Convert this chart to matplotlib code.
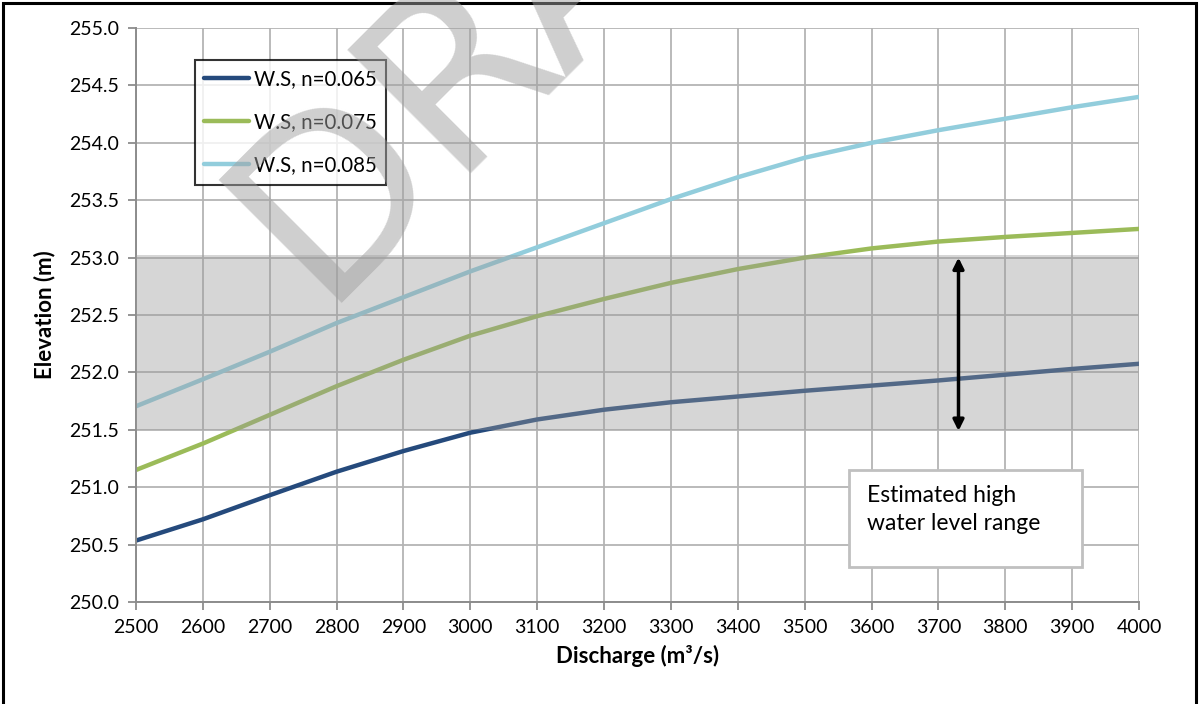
import numpy as np
import matplotlib.pyplot as plt
from matplotlib.patches import Rectangle

plt.rcParams['font.family'] = ['Lato', 'DejaVu Sans']

# discharge (m3/s) and water surface elevations (m)
discharge = [2500, 2600, 2700, 2800, 2900, 3000, 3100, 3200,
             3300, 3400, 3500, 3600, 3700, 3800, 3900, 4000]
ws_065 = [250.535, 250.72, 250.93, 251.135, 251.315, 251.475, 251.59, 251.675,
          251.74, 251.79, 251.84, 251.885, 251.93, 251.98, 252.03, 252.075]
ws_075 = [251.15, 251.38, 251.63, 251.88, 252.11, 252.32, 252.49, 252.64,
          252.78, 252.90, 253.00, 253.08, 253.14, 253.18, 253.215, 253.25]
ws_085 = [251.705, 251.94, 252.18, 252.43, 252.655, 252.88, 253.09, 253.30,
          253.51, 253.70, 253.87, 254.00, 254.11, 254.21, 254.31, 254.40]
labels = ['W.S, n=0.065', 'W.S, n=0.075', 'W.S, n=0.085']
colors = ['#254a7c', '#9bbb59', '#92cddc']

# high water level range
hw_low, hw_high = 251.5, 253.0
arrow_x = 3730

fig = plt.figure(figsize=(11.99, 7.04), dpi=100)
ax = fig.add_axes([0.1134, 0.1449, 0.8366, 0.8153])

for ys, lab, c in zip([ws_065, ws_075, ws_085], labels, colors):
    ax.plot(discharge, ys, color=c, lw=3.2, label=lab, solid_capstyle='round',
            solid_joinstyle='round', zorder=2)

# shaded band sits on top of the lines, semi transparent
ax.axhspan(hw_low, hw_high + 0.02, color='#9a9a9a', alpha=0.4, lw=0, zorder=3)

ax.annotate('', xy=(arrow_x, hw_high), xytext=(arrow_x, hw_low - 0.01),
            arrowprops=dict(arrowstyle='<|-|>', color='black', lw=2.5,
                            mutation_scale=16, shrinkA=0, shrinkB=0), zorder=5)

ax.set_xlim(2500, 4000)
ax.set_ylim(250.0, 255.0)
ax.set_xticks(np.arange(2500, 4001, 100))
ax.set_yticks(np.arange(250.0, 255.01, 0.5))
ax.set_yticklabels([f'{v:.1f}' for v in np.arange(250.0, 255.01, 0.5)])
ax.grid(True, color='#b4b4b4', lw=1.3)
ax.set_axisbelow(True)
for s in ['top', 'right']:
    ax.spines[s].set_visible(False)
for s in ['left', 'bottom']:
    ax.spines[s].set_color('#8c8c8c')
    ax.spines[s].set_linewidth(1.4)
ax.tick_params(direction='out', length=6, width=1.3, color='#8c8c8c',
               labelsize=14, pad=6)

ax.set_xlabel('Discharge (m³/s)', fontsize=16, fontweight='bold', labelpad=7)
ax.set_ylabel('Elevation (m)', fontsize=16, fontweight='bold', labelpad=10)

leg = ax.legend(loc='upper left', bbox_to_anchor=(0.0588, 0.944), borderaxespad=0,
                prop={'size': 14.8}, frameon=True, fancybox=False, edgecolor='black',
                handlelength=2.2, handletextpad=0.2, labelspacing=1.12,
                borderpad=0.45)
leg.get_frame().set_linewidth(1.5)
leg.set_zorder(6)

# text box for the band
ax.add_patch(Rectangle((0.711, 0.061), 0.232, 0.169, transform=ax.transAxes,
                       facecolor='white', edgecolor='#c0c0c0', lw=2, zorder=6))
ax.text(0.729, 0.204, 'Estimated high\nwater level range', transform=ax.transAxes,
        fontsize=16.5, va='top', ha='left', linespacing=1.4, zorder=7)

# outer frame
fig.add_artist(Rectangle((0.0025, -0.02), 0.995, 1.0157, transform=fig.transFigure,
                         fill=False, edgecolor='black', lw=2.2))

# watermark
fig.text(318 / 1199, 1 - 303 / 704, 'DRAFT', rotation=45, rotation_mode='anchor',
         ha='left', va='baseline', fontsize=172, color='#a0a0a0', alpha=0.5,
         family='DejaVu Sans', zorder=10)

fig.savefig('out.png', dpi=100)
